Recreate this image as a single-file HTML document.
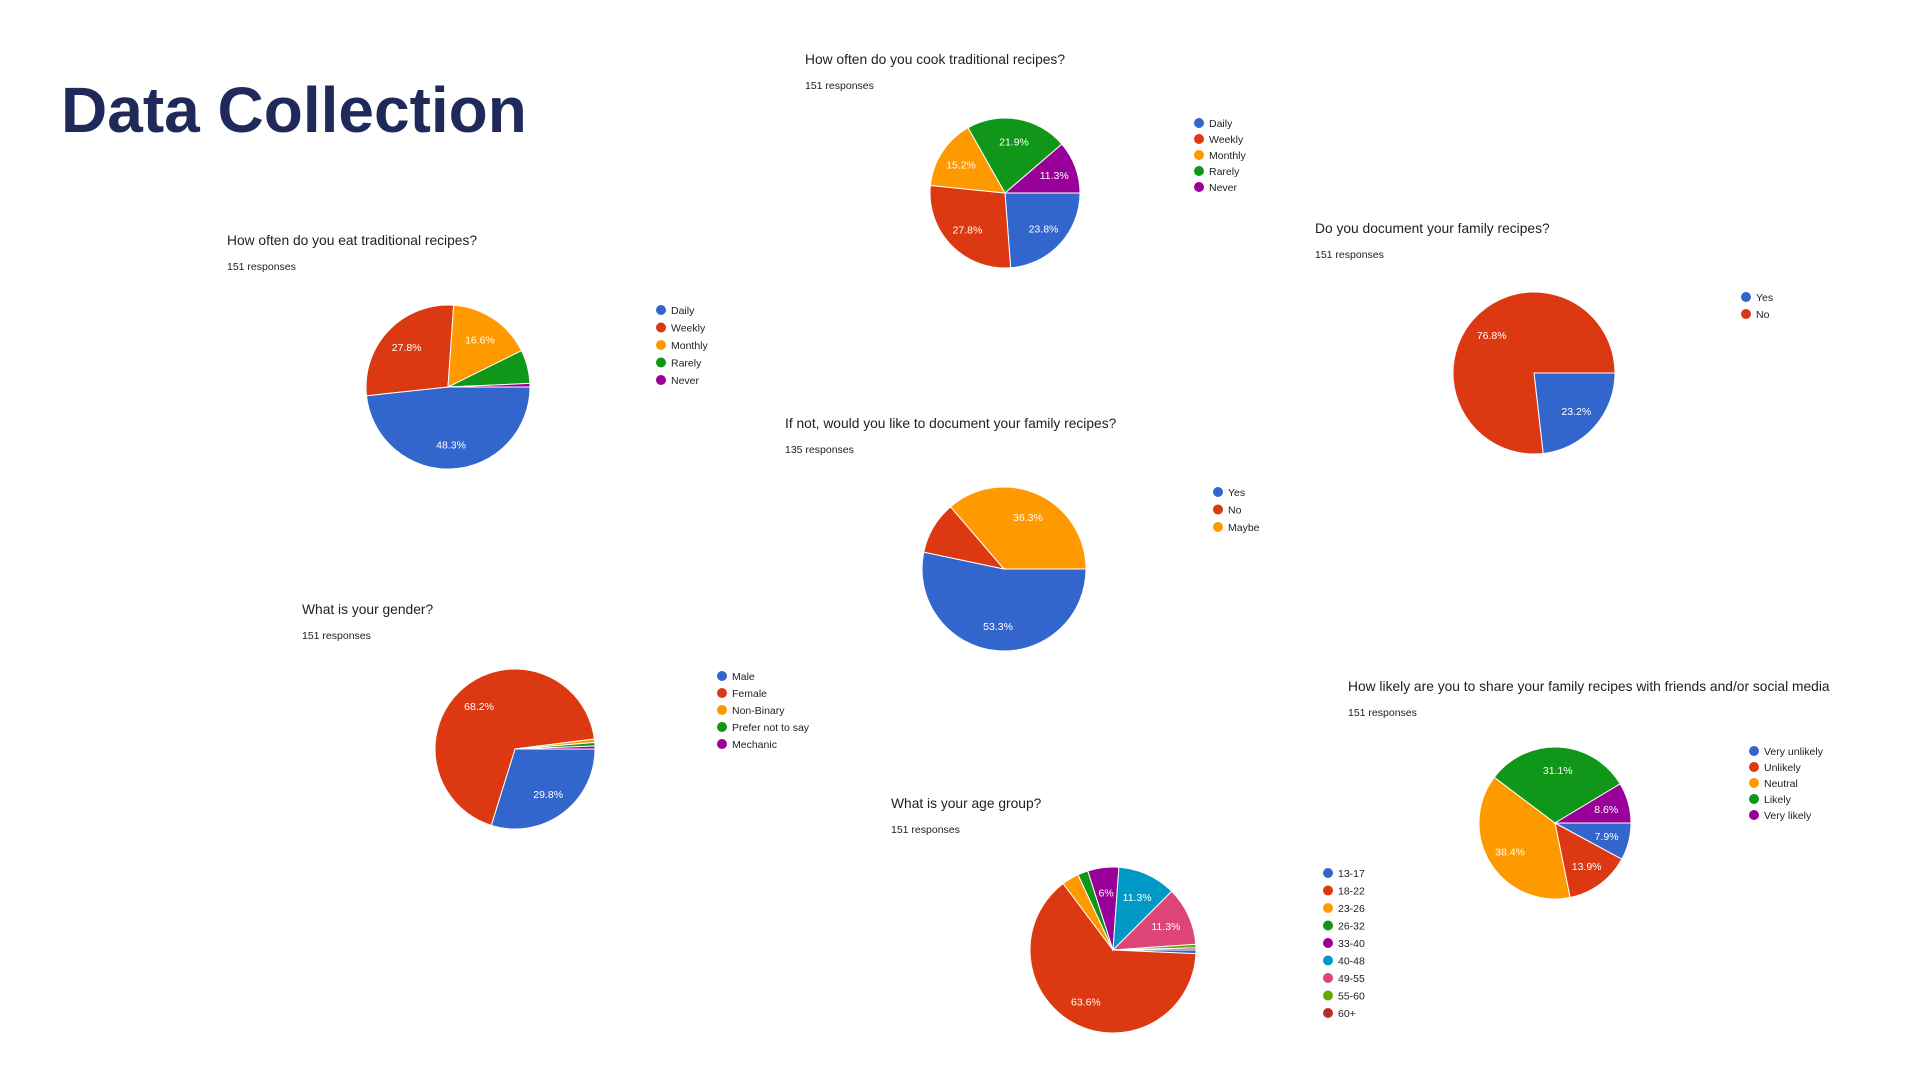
<!DOCTYPE html>
<html><head><meta charset="utf-8">
<style>
html,body{margin:0;padding:0;background:#fff;width:1920px;height:1080px;overflow:hidden}
svg{display:block}
.ttl{font-family:"Liberation Sans",sans-serif;font-size:13.8px;fill:#202124}
.rsp{font-family:"Liberation Sans",sans-serif;font-size:10.5px;fill:#202124}
.lg{font-family:"Liberation Sans",sans-serif;font-size:10.5px;fill:#222}
.pl{font-family:"Liberation Sans",sans-serif;font-size:10.5px;fill:#fff}
</style></head>
<body>
<svg id="root" width="1920" height="1080" viewBox="0 0 1920 1080">
<text x="61" y="132" font-family="Liberation Sans, sans-serif" font-weight="bold" font-size="64" fill="#1f2a5a">Data Collection</text>
</svg>
<script>
const COLORS=["#3366cc","#dc3912","#ff9900","#109618","#990099","#0099c6","#dd4477","#66aa00","#b82e2e"];

const eatCategories=["Daily","Weekly","Monthly","Rarely","Never"];
const eatValues=[48.3,27.8,16.6,6.6,0.7];
const cookCategories=["Daily","Weekly","Monthly","Rarely","Never"];
const cookValues=[23.8,27.8,15.2,21.9,11.3];
const docCategories=["Yes","No"];
const docValues=[23.2,76.8];
const wouldCategories=["Yes","No","Maybe"];
const wouldValues=[53.3,10.4,36.3];
const genderCategories=["Male","Female","Non-Binary","Prefer not to say","Mechanic"];
const genderValues=[29.8,68.2,0.7,0.7,0.6];
const ageCategories=["13-17","18-22","23-26","26-32","33-40","40-48","49-55","55-60","60+"];
const ageValues=[0.7,63.6,3.3,2.0,6.0,11.3,11.3,0.7,0.4];
const shareCategories=["Very unlikely","Unlikely","Neutral","Likely","Very likely"];
const shareValues=[7.9,13.9,38.4,31.1,8.6];

const charts=[
 {id:"eat",title:"How often do you eat traditional recipes?",resp:"151 responses",tx:227,ty:245,cx:448,cy:387,r:82,lx:656,ly:310,ls:17.5,cats:eatCategories,vals:eatValues,min:7},
 {id:"cook",title:"How often do you cook traditional recipes?",resp:"151 responses",tx:805,ty:64,cx:1005,cy:193,r:75,lx:1194,ly:123,ls:16,cats:cookCategories,vals:cookValues,min:7},
 {id:"document",title:"Do you document your family recipes?",resp:"151 responses",tx:1315,ty:233,cx:1534,cy:373,r:81,lx:1741,ly:297,ls:17,cats:docCategories,vals:docValues,min:7},
 {id:"would-document",title:"If not, would you like to document your family recipes?",resp:"135 responses",tx:785,ty:428,cx:1004,cy:569,r:82,lx:1213,ly:492,ls:17.5,cats:wouldCategories,vals:wouldValues,min:11},
 {id:"gender",title:"What is your gender?",resp:"151 responses",tx:302,ty:614,cx:515,cy:749,r:80,lx:717,ly:676,ls:17,cats:genderCategories,vals:genderValues,min:7},
 {id:"age",title:"What is your age group?",resp:"151 responses",tx:891,ty:808,cx:1113,cy:950,r:83,lx:1323,ly:873,ls:17.5,cats:ageCategories,vals:ageValues,min:5},
 {id:"share",title:"How likely are you to share your family recipes with friends and/or social media",resp:"151 responses",tx:1348,ty:691,cx:1555,cy:823,r:76,lx:1749,ly:751,ls:16,cats:shareCategories,vals:shareValues,min:7}
];
const NS="http://www.w3.org/2000/svg";
const root=document.getElementById('root');
function mk(tag,attrs,parent){const e=document.createElementNS(NS,tag);for(const k in attrs)e.setAttribute(k,attrs[k]);parent.appendChild(e);return e;}
function pt(cx,cy,r,a){return [cx+r*Math.sin(a),cy-r*Math.cos(a)];}
charts.forEach(c=>{
 const g=mk('g',{},root);
 
 
 const t=mk('text',{x:c.tx,y:c.ty,class:'ttl'},g);t.textContent=c.title;
 
 
 const rs=mk('text',{x:c.tx,y:c.ty+25,class:'rsp'},g);rs.textContent=c.resp;
 
 
 const total=c.vals.reduce((a,b)=>a+b,0);
 let a=Math.PI/2;
 c.vals.forEach((v,i)=>{
  const sweep=v/total*Math.PI*2;
  const [x1,y1]=pt(c.cx,c.cy,c.r,a),[x2,y2]=pt(c.cx,c.cy,c.r,a+sweep);
  const p=mk('path',{d:`M${c.cx},${c.cy}L${x1},${y1}A${c.r},${c.r} 0 ${sweep>Math.PI?1:0} 1 ${x2},${y2}Z`,fill:COLORS[i],stroke:'#fff','stroke-width':1},g);
  
  
  if(v>=c.min){
   const [lx,ly]=pt(c.cx,c.cy,c.r*0.7,a+sweep/2);
   const l=mk('text',{x:lx,y:ly+4,'text-anchor':'middle',class:'pl'},g);l.textContent=v+'%';
   
   
  }
  a+=sweep;
 });
 c.cats.forEach((cat,i)=>{
  const y=c.ly+i*c.ls;
  const d=mk('circle',{cx:c.lx+5,cy:y,r:5,fill:COLORS[i]},g);
  
  
  const lt=mk('text',{x:c.lx+15,y:y+4,class:'lg'},g);lt.textContent=cat;
  
  
 });
});
</script>
</body></html>
